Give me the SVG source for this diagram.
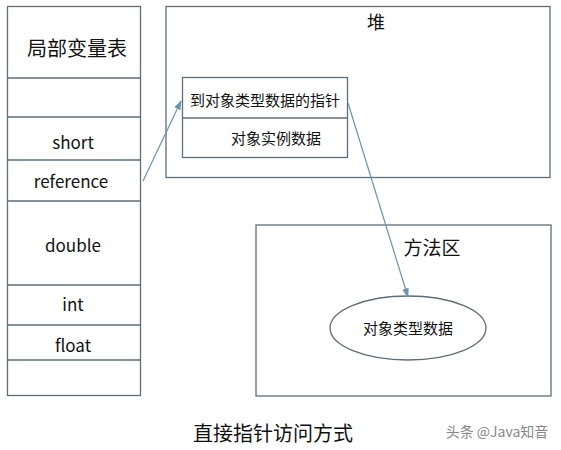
<svg xmlns="http://www.w3.org/2000/svg" width="561" height="450" viewBox="0 0 561 450">
<defs>
<style>
.box{fill:none;stroke:#5f6e78;stroke-width:1.3}
.t{font-family:"Noto Sans CJK SC","Liberation Sans",sans-serif;fill:#111;text-anchor:middle}
.c{stroke:#6b93ad;stroke-width:1.2;fill:none}
</style>
<marker id="ah" viewBox="0 0 10 10" refX="9" refY="5" markerWidth="8" markerHeight="8" orient="auto"><path d="M0,1.5 L10,5 L0,8.5 z" fill="#6b93ad"/></marker>
</defs>
<rect width="561" height="450" fill="#fff"/>
<g id="stack">
<rect class="box" x="7.5" y="6.5" width="133" height="389"/>
<path class="box" d="M7.5 78H140.5M7.5 117H140.5M7.5 160H140.5M7.5 201H140.5M7.5 285H140.5M7.5 325H140.5M7.5 360H140.5"/>
<text class="t" x="77" y="56" font-size="20">局部变量表</text>
<text class="t" x="73" y="149" font-size="17">short</text>
<text class="t" x="71" y="188" font-size="17">reference</text>
<text class="t" x="73" y="252" font-size="17">double</text>
<text class="t" x="73" y="311" font-size="17">int</text>
<text class="t" x="73" y="352" font-size="17">float</text>
</g>
<g id="heap">
<rect class="box" x="166" y="6.5" width="384" height="171"/>
<text class="t" x="376" y="29" font-size="18">堆</text>
</g>
<g id="object">
<rect class="box" x="182.5" y="77.5" width="165" height="80"/>
<line class="box" x1="182.5" y1="118" x2="347.5" y2="118"/>
<text class="t" x="265" y="106" font-size="15">到对象类型数据的指针</text>
<text class="t" x="276" y="144" font-size="15">对象实例数据</text>
</g>
<g id="method">
<rect class="box" x="256" y="225" width="295" height="171"/>
<text class="t" x="432" y="255" font-size="19">方法区</text>
</g>
<g id="typedata">
<ellipse class="box" cx="408" cy="328" rx="78" ry="32"/>
<text class="t" x="408" y="334" font-size="15">对象类型数据</text>
</g>
<g id="connectors">
<line class="c" x1="143" y1="181" x2="181" y2="101" marker-end="url(#ah)"/>
<line class="c" x1="348" y1="103" x2="408" y2="297" marker-end="url(#ah)"/>
</g>
<text class="t" x="273" y="441" font-size="20">直接指针访问方式</text>
<text class="t" x="497" y="437" font-size="14" style="fill:#888">头条 @Java知音</text>
</svg>
